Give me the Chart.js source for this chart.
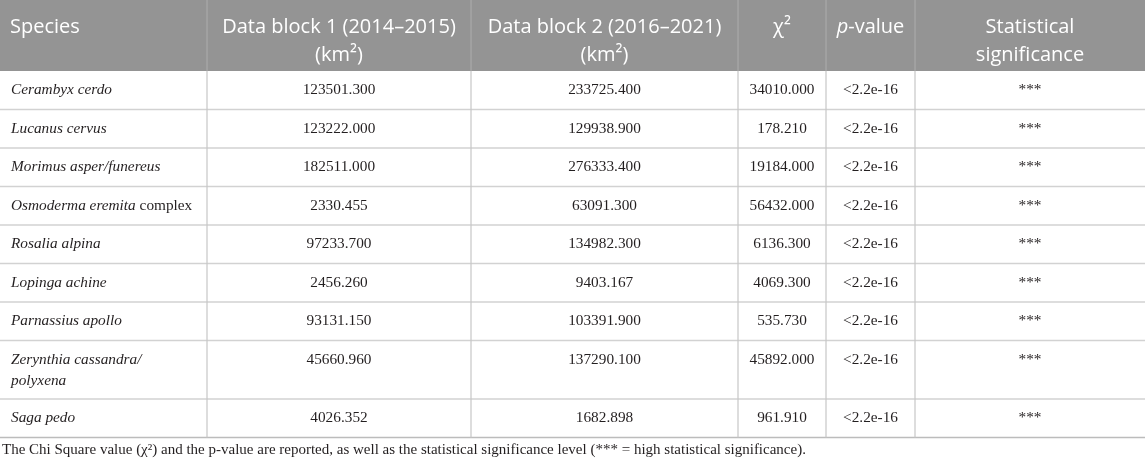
<!DOCTYPE html>
<html><head><meta charset="utf-8">
<script src="https://cdn.jsdelivr.net/npm/chart.js@4.4.1/dist/chart.umd.min.js"></script>
<style>html,body{margin:0;padding:0;background:#fff}#wrap{width:1145px;height:463px;position:relative}</style>
</head><body><div id="wrap"><canvas id="c"></canvas></div>
<script>
// ---- data ----
const headers = ['Species', 'Data block 1 (2014–2015)\n(km²)', 'Data block 2 (2016–2021)\n(km²)', 'χ²', 'p-value', 'Statistical\nsignificance'];
const species = ['Cerambyx cerdo', 'Lucanus cervus', 'Morimus asper/funereus', 'Osmoderma eremita complex', 'Rosalia alpina', 'Lopinga achine', 'Parnassius apollo', 'Zerynthia cassandra/ polyxena', 'Saga pedo'];
const block1 = [123501.300, 123222.000, 182511.000, 2330.455, 97233.700, 2456.260, 93131.150, 45660.960, 4026.352];
const block2 = [233725.400, 129938.900, 276333.400, 63091.300, 134982.300, 9403.167, 103391.900, 137290.100, 1682.898];
const chiSquare = [34010.000, 178.210, 19184.000, 56432.000, 6136.300, 4069.300, 535.730, 45892.000, 961.910];
const pValues = ['<2.2e-16', '<2.2e-16', '<2.2e-16', '<2.2e-16', '<2.2e-16', '<2.2e-16', '<2.2e-16', '<2.2e-16', '<2.2e-16'];
const significance = ['***', '***', '***', '***', '***', '***', '***', '***', '***'];
const uprightWords = ['complex'];
const italicHeaderParts = ['p'];
const footnote = 'The Chi Square value (χ²) and the p-value are reported, as well as the statistical significance level (*** = high statistical significance).';

// ---- layout / style (in scale units) ----
const colEdges = [0, 207, 471, 738, 826, 915, 1145];
const headerH = 71, rowH = 38.5, extraLineH = 20;
const padX = 11;
const HEAD_FONT = '"Open Sans", "Noto Sans", sans-serif';
const BODY_FONT = '"Liberation Serif", "DejaVu Serif", serif';

function drawSegs(ctx, segs, x, y, align) {
  let w = 0;
  segs.forEach(s => { ctx.font = s.font; w += ctx.measureText(s.t).width; });
  let cx = align === 'center' ? x - w / 2 : x;
  ctx.textAlign = 'left';
  segs.forEach(s => { ctx.font = s.font; ctx.fillText(s.t, cx, y); cx += ctx.measureText(s.t).width; });
}

const tablePlugin = {
  id: 'table',
  afterDraw(chart) {
    const ctx = chart.ctx, xs = chart.scales.x, ys = chart.scales.y;
    const X = v => xs.getPixelForValue(v), Y = v => ys.getPixelForValue(v);
    ctx.save();
    ctx.textBaseline = 'middle';
    const bodyF = '15.3px ' + BODY_FONT, bodyI = 'italic 15.3px ' + BODY_FONT;
    const headF = '20px ' + HEAD_FONT, headI = 'italic 20px ' + HEAD_FONT;

    // wrap species names
    const maxW = (colEdges[1] - colEdges[0]) - 2 * padX;
    const wrapped = species.map(name => {
      const words = name.split(' ');
      const lines = []; let cur = [];
      words.forEach(wd => {
        const test = cur.concat([wd]).join(' ');
        ctx.font = bodyI;
        if (cur.length && ctx.measureText(test).width > maxW) { lines.push(cur); cur = [wd]; }
        else cur.push(wd);
      });
      if (cur.length) lines.push(cur);
      return lines;
    });

    // row extents
    const rowTops = []; let t = headerH;
    wrapped.forEach(lines => { rowTops.push(t); t += rowH + (lines.length - 1) * extraLineH; });
    const bottom = t;

    // header background
    ctx.fillStyle = '#949494';
    ctx.fillRect(X(0), Y(0), X(1145) - X(0), Y(headerH) - Y(0));

    // horizontal lines
    ctx.strokeStyle = '#d2d2d2'; ctx.lineWidth = 1.6;
    rowTops.slice(1).forEach(rt => { ctx.beginPath(); ctx.moveTo(X(0), Y(rt)); ctx.lineTo(X(1145), Y(rt)); ctx.stroke(); });
    ctx.strokeStyle = '#bcbcbc'; ctx.lineWidth = 1.6;
    ctx.beginPath(); ctx.moveTo(X(0), Y(bottom)); ctx.lineTo(X(1145), Y(bottom)); ctx.stroke();

    // vertical lines
    ctx.lineWidth = 1.2;
    colEdges.slice(1, -1).forEach(ce => {
      ctx.strokeStyle = '#a9a9a9';
      ctx.beginPath(); ctx.moveTo(X(ce), Y(0)); ctx.lineTo(X(ce), Y(headerH)); ctx.stroke();
      ctx.strokeStyle = '#c6c6c6';
      ctx.beginPath(); ctx.moveTo(X(ce), Y(headerH)); ctx.lineTo(X(ce), Y(bottom)); ctx.stroke();
    });

    // header text
    ctx.fillStyle = '#ffffff';
    headers.forEach((h, i) => {
      const lines = h.split('\n');
      lines.forEach((ln, li) => {
        const yy = Y(27 + li * 28);
        let segs;
        if (ln.indexOf('-') > 0 && italicHeaderParts.includes(ln.split('-')[0])) {
          const p = ln.split('-')[0];
          segs = [{ t: p, font: headI }, { t: ln.slice(p.length), font: headF }];
        } else segs = [{ t: ln, font: headF }];
        if (i === 0) drawSegs(ctx, segs, X(colEdges[0] + padX - 1), yy, 'left');
        else drawSegs(ctx, segs, X((colEdges[i] + colEdges[i + 1]) / 2), yy, 'center');
      });
    });

    // body
    ctx.fillStyle = '#231f20';
    const cols = [null, block1.map(v => v.toFixed(3)), block2.map(v => v.toFixed(3)), chiSquare.map(v => v.toFixed(3)), pValues, significance];
    wrapped.forEach((lines, r) => {
      const top = rowTops[r];
      lines.forEach((words, li) => {
        const segs = [];
        words.forEach((wd, wi) => {
          const txt = (wi ? ' ' : '') + wd;
          segs.push({ t: txt, font: uprightWords.includes(wd) ? bodyF : bodyI });
        });
        drawSegs(ctx, segs, X(colEdges[0] + padX), Y(top + 19 + li * 21), 'left');
      });
      for (let c = 1; c < cols.length; c++) {
        drawSegs(ctx, [{ t: cols[c][r], font: bodyF }], X((colEdges[c] + colEdges[c + 1]) / 2), Y(top + 19), 'center');
      }
    });

    // footnote
    drawSegs(ctx, [{ t: footnote, font: '15px ' + BODY_FONT }], X(2), Y(bottom + 13), 'left');
    ctx.restore();
  }
};

new Chart(document.getElementById('c'), {
  type: 'scatter',
  data: { datasets: [{ data: [] }] },
  options: {
    responsive: true, maintainAspectRatio: false, animation: false,
    layout: { padding: 0 },
    plugins: { legend: { display: false }, tooltip: { enabled: false } },
    scales: {
      x: { type: 'linear', min: 0, max: 1145, display: false },
      y: { type: 'linear', min: 0, max: 463, reverse: true, display: false }
    }
  },
  plugins: [tablePlugin]
});
</script></body></html>
